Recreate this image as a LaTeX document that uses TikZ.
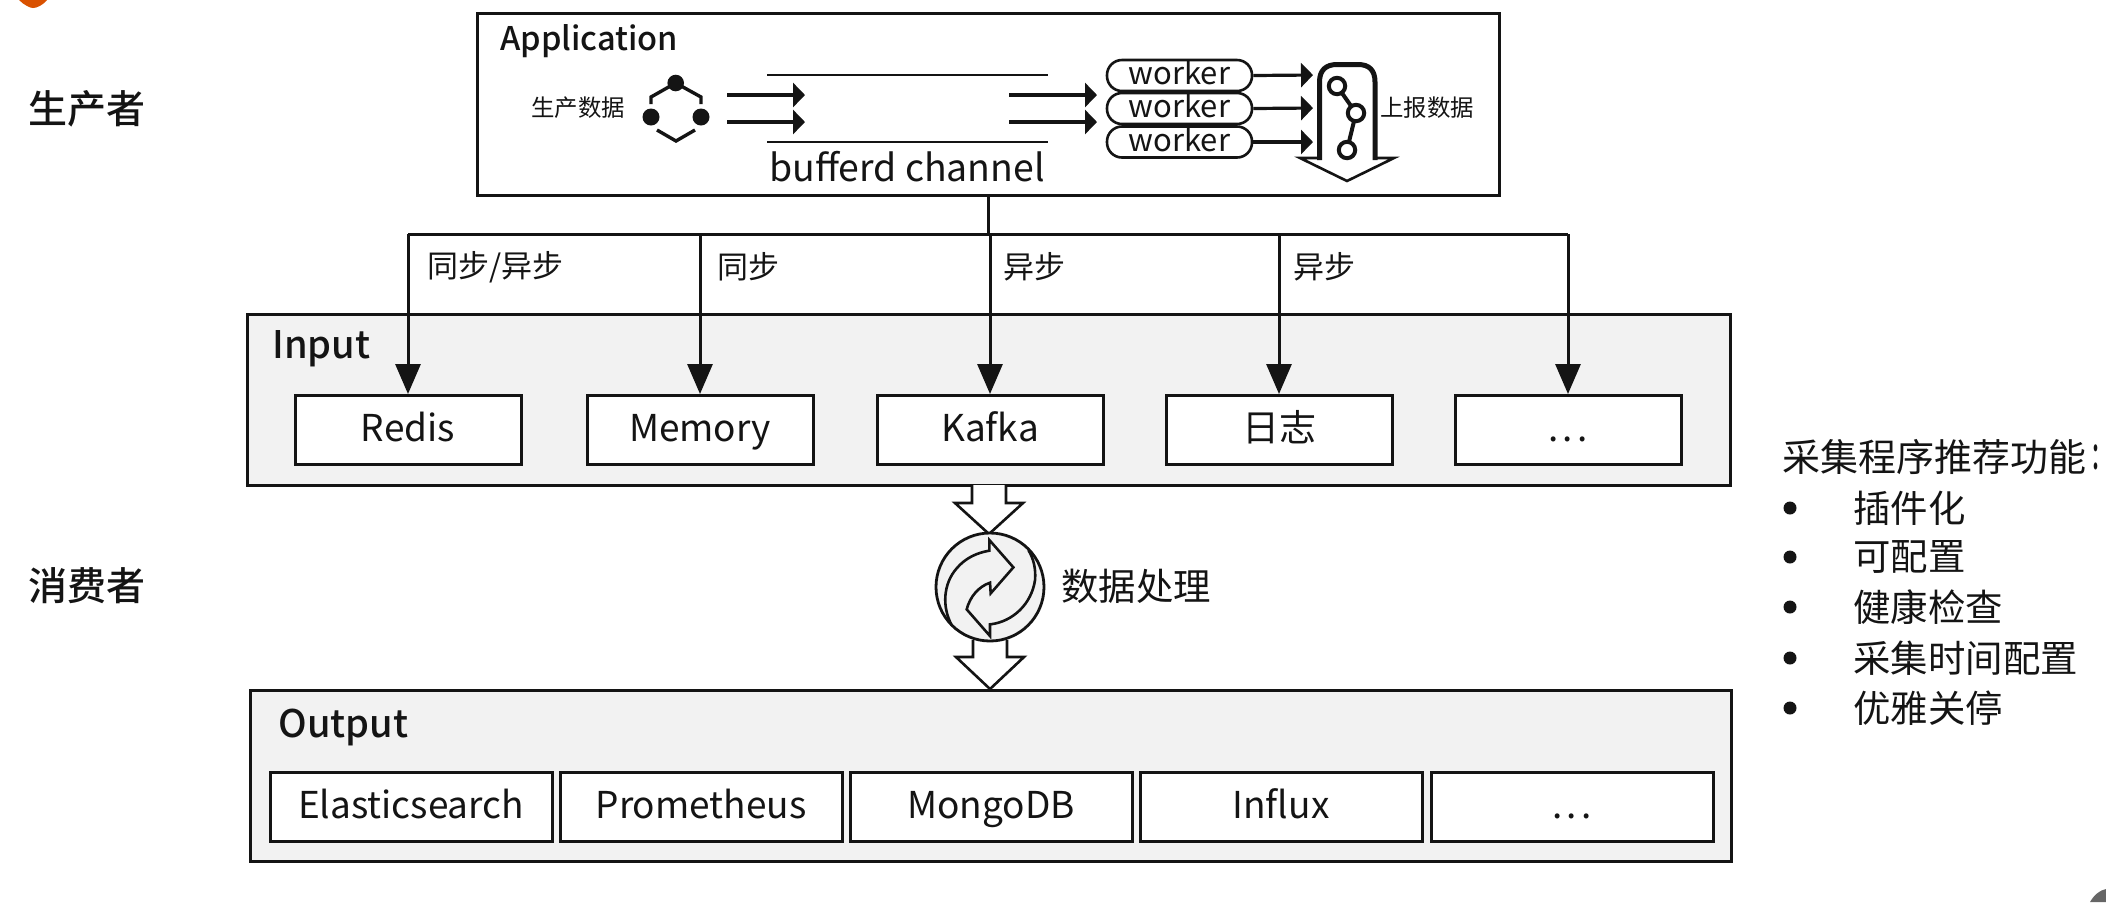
\documentclass[tikz,border=0pt]{standalone}
\usepackage{fontspec}
\setmainfont{Noto Sans CJK SC}
\newfontfamily\medf{Noto Sans CJK SC Medium}
\newfontfamily\tcf{Noto Sans CJK TC Bold}
\usetikzlibrary{arrows.meta,calc}
\newcommand{\fs}[1]{\fontsize{#1}{#1}\selectfont}
\newcommand{\spdots}{.\kern2pt.\kern2pt.}
\definecolor{panel}{HTML}{F2F2F2}
\definecolor{ink}{HTML}{141414}
\tikzset{
  panelbox/.style={draw=ink,fill=panel,line width=1.5pt},
  appbox/.style={draw=ink,fill=white,line width=1.5pt,minimum width=511pt,minimum height=91pt,inner sep=0pt},
  itembox/.style={draw=ink,fill=white,line width=1.5pt,inner sep=0pt,minimum height=34.5pt,font=\fs{18.5},text=ink,text height=14pt,text depth=2.6pt},
  inbox/.style={itembox,minimum width=113pt},
  outbox/.style={itembox,minimum width=141pt},
  workerbox/.style={draw=ink,fill=white,line width=1.3pt,rounded corners=7.5pt,inner sep=0pt,minimum width=72.5pt,minimum height=15.5pt,font=\fs{15.5},text=ink,text height=10pt,text depth=0.8pt},
  lbl/.style={inner sep=0pt,text=ink},
  bus/.style={draw=ink,line width=1.5pt},
  busarrow/.style={draw=ink,line width=1.5pt,-{Triangle[length=15pt,width=12.5pt]}},
  minitip/.style={draw=ink,line width=1.6pt,-{Triangle[length=6pt,width=12pt]}},
  hollow/.style={draw=ink,fill=white,line width=1.3pt,line join=miter},
  iconline/.style={draw=ink,line width=1.7pt},
  chanline/.style={draw=ink,line width=1.4pt},
}
\begin{document}
\begin{tikzpicture}[x=0.5pt,y=-0.5pt]
\useasboundingbox (0,0) rectangle (2106,902);
% cropped remnants at the page edges
\fill[orange!75!red!85!black] (19,0) .. controls (24,5) and (30,8) .. (33,8) .. controls (37,8) and (43,5) .. (47,0) -- cycle;
\fill[black!60] (2090,902) .. controls (2094,895) and (2100,890) .. (2106,889) -- (2106,902) -- cycle;

% side labels
\node[lbl,font=\fs{19.5}\medf,anchor=center] (prod) at (87,109) {生产者};
\node[lbl,font=\fs{19.5}\medf,anchor=center] (cons) at (87,586) {消费者};

% application
\node[appbox] (app) at (988.5,104) {};
\node[lbl,font=\fs{16.3}\medf,anchor=west] (apptitle) at (500,41) {Application};
\node[lbl,font=\fs{11.7},anchor=center] (gen) at (578,108) {生产数据};
\node[lbl,font=\fs{11.7},anchor=center] (rep) at (1427,108) {上报数据};
\node[lbl,font=\fs{18.7},anchor=center] (chan) at (907,167) {bufferd channel};

% producer icon
\fill[ink] (675.7,83) circle (8.3);
\fill[ink] (651,117) circle (8.5);
\fill[ink] (701,117) circle (8.5);
\draw[iconline] (651,104) -- (651,97) -- (675.7,83) -- (701,97) -- (701,104);
\draw[iconline] (657,130) -- (676,141) -- (695,130);

% channel
\coordinate (chTopL) at (767,75); \coordinate (chTopR) at (1048,75);
\coordinate (chBotL) at (767,142); \coordinate (chBotR) at (1048,142);
\draw[chanline] (chTopL) -- (chTopR);
\draw[chanline] (chBotL) -- (chBotR);
\coordinate (inA) at (727,95); \coordinate (inAe) at (805,95);
\coordinate (inB) at (727,122); \coordinate (inBe) at (805,122);
\coordinate (outA) at (1009,95); \coordinate (outAe) at (1097,95);
\coordinate (outB) at (1009,122); \coordinate (outBe) at (1097,122);
\draw[minitip] (inA) -- (inAe);
\draw[minitip] (inB) -- (inBe);
\draw[minitip] (outA) -- (outAe);
\draw[minitip] (outB) -- (outBe);

% workers
\node[workerbox] (w1) at (1179.5,75.5) {worker};
\node[workerbox] (w2) at (1179.5,108.5) {worker};
\node[workerbox] (w3) at (1179.5,142) {worker};

% reporting arrow with branch icon
\draw[hollow] (1319.5,158) -- (1300,158) -- (1347,181) -- (1394,158) -- (1375,158);
\draw[draw=ink,line width=2.5pt,line join=round]
  (1319.5,160) -- (1319.5,82) .. controls (1319.5,70) and (1326,64.5) .. (1337,64.5) -- (1358,64.5)
  .. controls (1369,64.5) and (1375,70) .. (1375,82) -- (1375,160);
\coordinate (tgt1) at (1313,75); \coordinate (tgt2) at (1313,108); \coordinate (tgt3) at (1313,142);
\draw[minitip] (w1.east) -- (tgt1);
\draw[minitip] (w2.east) -- (tgt2);
\draw[minitip] (w3.east) -- (tgt3);
\draw[iconline,line width=2pt] (1337,86) -- (1356,113) -- (1347,150);
\foreach \cc in {(1337,86),(1356,113),(1347,150)}{
  \draw[draw=ink,fill=white,line width=2pt] \cc circle (8.2);
}

% input panel
\node[panelbox,minimum width=741.5pt,minimum height=85.5pt,inner sep=0pt] (input) at (988.5,399.5) {};
\node[lbl,font=\fs{19}\medf,anchor=west] (intitle) at (272,349) {Input};
\node[inbox] (redis) at (408,430) {Redis};
\node[inbox] (memory) at (700,430) {Memory};
\node[inbox] (kafka) at (990,430) {Kafka};
\node[inbox] (log) at (1279,430) {日志};
\node[inbox] (dotsin) at (1568,430) {\spdots};

% bus
\coordinate (busL) at (408,234);
\coordinate (busR) at (1568,234);
\draw[bus] (app.south) -- (app.south |- busL);
\draw[bus] (busL) -- (busR);
\draw[busarrow] (busL) -- (redis.north);
\draw[busarrow] (memory.north |- busL) -- (memory.north);
\draw[busarrow] (kafka.north |- busL) -- (kafka.north);
\draw[busarrow] (log.north |- busL) -- (log.north);
\draw[busarrow] (busR) -- (dotsin.north);
\node[lbl,font=\fs{15.5},anchor=west] (l1) at (427,267) {同步/异步};
\node[lbl,font=\fs{15.5},anchor=west] (l2) at (717,267) {同步};
\node[lbl,font=\fs{15.5},anchor=west] (l3) at (1003,267) {异步};
\node[lbl,font=\fs{15.5},anchor=west] (l4) at (1293,267) {异步};

% output panel
\node[panelbox,minimum width=740.5pt,minimum height=85.5pt,inner sep=0pt] (output) at (990.5,775.5) {};
\node[lbl,font=\fs{19}\medf,anchor=west] (outtitle) at (278,727) {Output};
\node[outbox] (es) at (411,807) {Elasticsearch};
\node[outbox] (prom) at (701,807) {Prometheus};
\node[outbox] (mongo) at (991,807) {MongoDB};
\node[outbox] (influx) at (1281,807) {Influx};
\node[outbox] (dotsout) at (1572,807) {\spdots};

% processing
\draw[hollow] (972,485) -- (972,503) -- (955,503) -- (989,534) -- (1023,503) -- (1006,503) -- (1006,485);
\draw[hollow] (973,640) -- (973,657) -- (956,657) -- (990,689) -- (1024,657) -- (1007,657) -- (1007,640);
\node[draw=ink,fill=panel,line width=1.4pt,circle,minimum size=54pt,inner sep=0pt] (proc) at (990,587) {};
\begin{scope}[shift={(900,460)},x=0.1667pt,y=-0.1667pt,line width=1.3pt,draw=ink,line join=miter]
\draw (155,495) .. controls (125,440) and (130,370) .. (170,325) .. controls (195,295) and (230,278) .. (268,272)
  -- (268,240) -- (340,322) -- (272,400) -- (270,368) .. controls (235,380) and (210,410) .. (200,448)
  -- (270,528) -- (270,493) .. controls (340,485) and (395,430) .. (405,360) .. controls (408,325) and (400,295) .. (385,270);
\end{scope}
\node[lbl,font=\fs{18.7},anchor=west] (proclabel) at (1061,586) {数据处理};

% feature list
\node[lbl,font=\fs{19},anchor=west] (feat) at (1782,457) {采集程序推荐功能\scalebox{0.5}[1]{\tcf ：}};
\foreach \yy/\tt/\nm in {508/插件化/fa,557/可配置/fb,607/健康检查/fc,658/采集时间配置/fd,708/优雅关停/fe}{
  \fill[ink] (1790,\yy) circle (6.5);
  \node[lbl,font=\fs{18.7},anchor=west] (\nm) at (1853,\yy) {\tt};
}
\end{tikzpicture}
\end{document}
